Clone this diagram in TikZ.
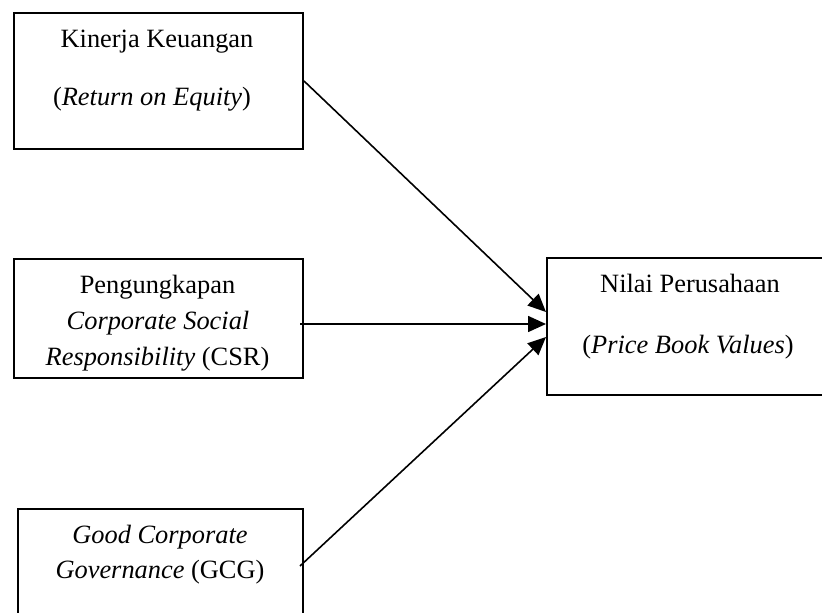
\documentclass[tikz,border=0pt]{standalone}
\usepackage{fontspec}
\setmainfont{Liberation Serif}
\usetikzlibrary{arrows.meta,calc}
\begin{document}
\begin{tikzpicture}[x=1pt,y=-1pt,
  box/.style={draw=black,line width=2pt,inner sep=0pt,anchor=north west},
  txt/.style={anchor=base,inner sep=0pt,font=\fontsize{26.4}{36}\selectfont},
  conn/.style={line width=1.6pt,-{Triangle[length=18pt,width=16pt]}}]
\useasboundingbox (0,0) rectangle (822,613);
\node[box,minimum width=289pt,minimum height=136pt] (b1) at (13,12) {};
\node[box,minimum width=289pt,minimum height=119pt] (b2) at (13,258) {};
\node[box,minimum width=285pt,minimum height=120pt] (b3) at (17,508) {};
\node[box,minimum width=300pt,minimum height=137pt] (b4) at (546,257) {};
\node[txt] (t1a) at (157,47) {Kinerja Keuangan};
\node[txt] (t1b) at (152,105) {(\textit{Return on Equity})};
\node[txt] (t2a) at (157.5,293) {Pengungkapan};
\node[txt] (t2b) at (158,329) {\textit{Corporate Social}};
\node[txt] (t2c) at (157.5,365) {\textit{Responsibility} (CSR)};
\node[txt] (t3a) at (160,543) {\textit{Good Corporate}};
\node[txt] (t3b) at (160,578) {\textit{Governance} (GCG)};
\node[txt] (t4a) at (690,292) {Nilai Perusahaan};
\node[txt] (t4b) at (688,353) {(\textit{Price Book Values})};
\draw[conn] ($(b1.north east)+(0,69)$) -- ($(b4.north west)+(0,55)$);
\draw[conn] ($(b2.north west)+(287,66)$) -- ($(b4.north west)+(0,67)$);
\draw[conn] ($(b3.north west)+(283,58)$) -- ($(b4.north west)+(0,80)$);
\end{tikzpicture}
\end{document}
